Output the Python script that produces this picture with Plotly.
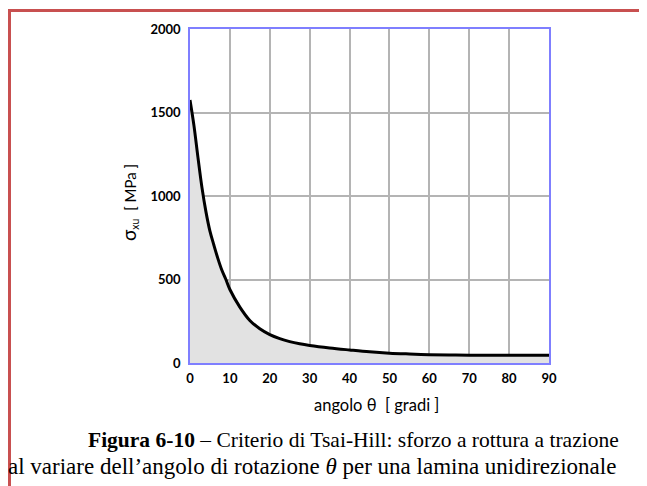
import plotly.graph_objects as go

# ---- data ----
theta = [0, 1, 2, 3, 4, 5, 6, 7, 8, 9, 10, 12.5, 15, 17.5, 20, 22.5, 25, 27.5,
         30, 35, 40, 45, 50, 55, 60, 65, 70, 80, 90]
sigma = [1575, 1420, 1230, 1050, 905, 790, 705, 625, 555, 500, 440, 335, 255, 205,
         170, 146, 128, 115, 105, 90, 78, 67, 59, 54, 50, 48, 47, 46, 46]
x_ticks = [0, 10, 20, 30, 40, 50, 60, 70, 80, 90]
y_ticks = [0, 500, 1000, 1500, 2000]

OFF = 8  # page body margin
W, H = 647 - OFF, 486 - OFF
L, R, T, B = 190 - OFF, 98, 29 - OFF, 123
PW, PH = W - L - R, H - T - B

def px(x):  # screen pixel -> paper x
    return (x - OFF - L) / PW

def py(y):  # screen pixel -> paper y
    return 1 - (y - OFF - T) / PH

fig = go.Figure()
fig.add_trace(go.Scatter(
    x=theta, y=sigma, mode="lines", line=dict(color="black", width=3, shape="spline"),
    fill="tozeroy", fillcolor="#e2e2e2", hoverinfo="skip", showlegend=False))

grid = dict(showgrid=True, gridcolor="#b4b4b4", gridwidth=1.5, zeroline=False,
            showline=True, linecolor="#7f7fff", linewidth=1.5, mirror=True,
            ticks="", tickfont=dict(family="Lato", size=13, color="black", weight="bold"))

fig.update_xaxes(range=[0, 90], tickvals=x_ticks, ticklabelstandoff=3, **grid)
fig.update_yaxes(range=[0, 2000], tickvals=y_ticks, ticklabelstandoff=5, **grid)

def note(text, x, y, size, family="Lato", xanchor="center", angle=0):
    return dict(text=text, x=px(x), y=py(y), xref="paper", yref="paper", showarrow=False,
                xanchor=xanchor, yanchor="middle", textangle=angle,
                font=dict(family=family, size=size, color="black"))

ann = [
    note("angolo θ  [ gradi ]", 376, 405, 16.5),
    note('<span style="font-size:19px">σ</span><sub>xu</sub>  [ MPa ]', 129, 203, 15, angle=-90),
    note("<b>Figura 6-10</b> – Criterio di Tsai-Hill: sforzo a rottura a trazione",
         353, 440, 21.5, family="Liberation Serif"),
    note("al variare dell’angolo di rotazione <i>θ</i> per una lamina unidirezionale",
         6, 466, 23, family="Liberation Serif", xanchor="left"),
]

red = "#c85050"
shapes = [
    dict(type="line", xref="paper", yref="paper", x0=px(9.5), x1=px(660), y0=py(10.5), y1=py(10.5),
         line=dict(color=red, width=3)),
    dict(type="line", xref="paper", yref="paper", x0=px(9.5), x1=px(9.5), y0=py(9), y1=py(500),
         line=dict(color=red, width=3)),
]

fig.update_layout(width=W, height=H, margin=dict(l=L, r=R, t=T, b=B),
                  paper_bgcolor="white", plot_bgcolor="white",
                  annotations=ann, shapes=shapes, showlegend=False)

fig.write_html("out.html")
